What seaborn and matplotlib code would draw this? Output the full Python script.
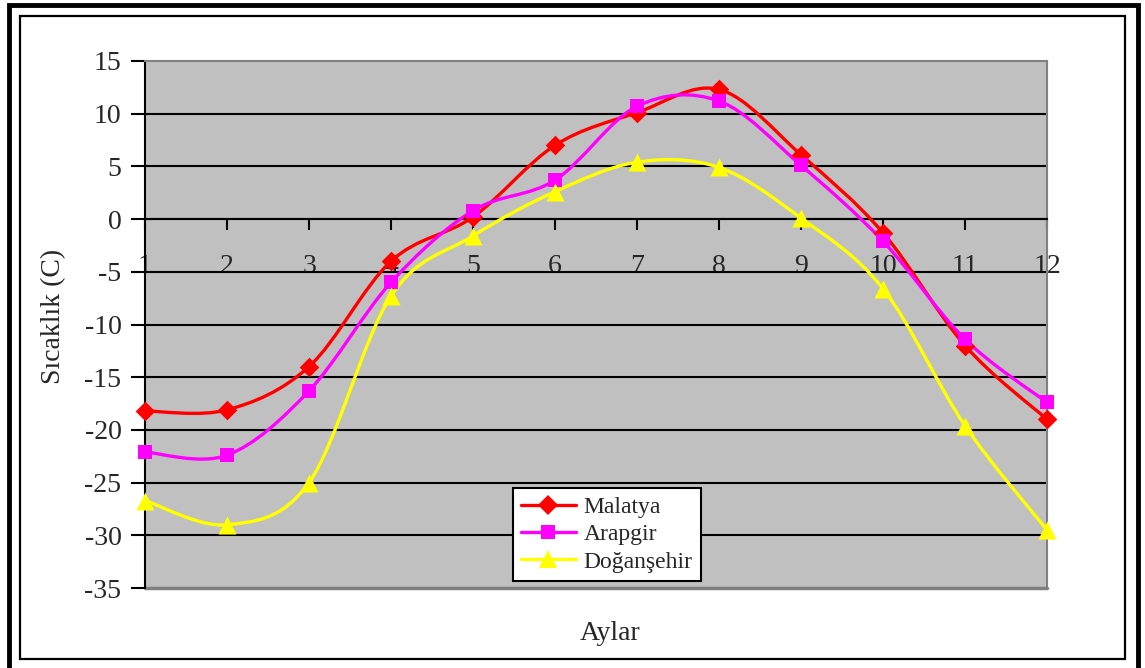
import numpy as np
import matplotlib
matplotlib.use("Agg")
import matplotlib.pyplot as plt
import seaborn as sns
import pandas as pd
from matplotlib.path import Path
from matplotlib.patches import PathPatch, Rectangle
from matplotlib.lines import Line2D

# ---- data ----
months = [1, 2, 3, 4, 5, 6, 7, 8, 9, 10, 11, 12]
malatya = [-18.2, -18.1, -14.0, -4.0, 0.2, 7.0, 10.1, 12.3, 6.1, -1.3, -12.0, -19.0]
arapgir = [-22.1, -22.4, -16.3, -6.0, 0.8, 3.7, 10.7, 11.2, 5.1, -2.1, -11.4, -17.4]
dogansehir = [-26.7, -29.0, -25.0, -7.3, -1.6, 2.6, 5.4, 4.9, 0.1, -6.6, -19.6, -29.5]
series_names = ["Malatya", "Arapgir", "Doğanşehir"]
y_ticks = [15, 10, 5, 0, -5, -10, -15, -20, -25, -30, -35]
x_label = "Aylar"
y_label = "Sıcaklık (C)"

# ---- style ----
sns.set_style("white")
plt.rcParams["font.family"] = ["Liberation Serif", "DejaVu Serif"]

colors = ["#FF0000", "#FF00FF", "#FFFF00"]
markers = ["D", "s", "^"]
msizes = [10, 10, 13]

W, H = 1145, 668
fig = plt.figure(figsize=(W / 100, H / 100), dpi=100)

# frame
fig.patches.append(Rectangle((9 / W, -0.05), (1138 - 9) / W, 1.05 - 5 / H,
                             transform=fig.transFigure, fill=False,
                             edgecolor="black", lw=3.5, zorder=0))
fig.patches.append(Rectangle((20 / W, 1 - 659 / H), (1125 - 20) / W, (659 - 16) / H,
                             transform=fig.transFigure, fill=False,
                             edgecolor="black", lw=1.6, zorder=0))

ax = fig.add_axes([145 / W, 1 - 588 / H, (1047 - 145) / W, (588 - 61) / H])
ax.set_facecolor("#C0C0C0")
ax.set_xlim(1, 12)
ax.set_ylim(-35, 15)

# gridlines
for v in y_ticks:
    if -35 < v < 15:
        ax.axhline(v, color="black", lw=1.5, zorder=1)


def smooth_path(xs, ys):
    pts = np.column_stack([xs, ys]).astype(float)
    n = len(pts)
    verts = [pts[0]]
    codes = [Path.MOVETO]
    for i in range(n - 1):
        p0 = pts[i - 1] if i > 0 else pts[i]
        p1 = pts[i]
        p2 = pts[i + 1]
        p3 = pts[i + 2] if i + 2 < n else pts[i + 1]
        c1 = p1 + (p2 - p0) / 6.0
        c2 = p2 - (p3 - p1) / 6.0
        verts += [c1, c2, p2]
        codes += [Path.CURVE4] * 3
    return Path(verts, codes)


df = pd.DataFrame({"month": months * 3,
                   "value": malatya + arapgir + dogansehir,
                   "series": sum([[s] * len(months) for s in series_names], [])})

for name, col, mk, ms in zip(series_names, colors, markers, msizes):
    sub = df[df["series"] == name]
    ax.add_patch(PathPatch(smooth_path(sub["month"], sub["value"]), fill=False,
                           edgecolor=col, lw=2.4, zorder=3, clip_on=False))
    sns.scatterplot(data=sub, x="month", y="value", marker=mk, s=ms ** 2,
                    color=col, edgecolor=col, linewidth=0, ax=ax, zorder=4,
                    clip_on=False, legend=False)

ax.set_xlabel("")
ax.set_ylabel("")

# axes
ax.set_yticks(y_ticks)
ax.set_yticklabels([str(v) for v in y_ticks])
ax.set_xticks(months)
ax.set_xticklabels([str(m) for m in months])
ax.spines["bottom"].set_position(("data", 0))
ax.spines["bottom"].set_color("black")
ax.spines["bottom"].set_linewidth(1.5)
ax.spines["left"].set_color("black")
ax.spines["left"].set_linewidth(1.5)
for s in ["top", "right"]:
    ax.spines[s].set_color("#808080")
    ax.spines[s].set_linewidth(1.5)
ax.axhline(-35, color="#808080", lw=2.5, zorder=2, clip_on=False)
ax.tick_params(axis="y", direction="out", length=10, width=1.5, color="black",
               labelsize=20, pad=7, left=True)
ax.tick_params(axis="x", direction="out", length=8, width=1.5, color="black",
               labelsize=20, pad=17, bottom=True)

fig.text(54 / W, 1 - 316 / H, y_label, rotation=90, ha="center", va="center", fontsize=20)
fig.text(610 / W, 1 - 633 / H, x_label, ha="center", va="center", fontsize=20)

handles = [Line2D([0], [0], color=c, lw=2.4, marker=m, markersize=ms, markeredgewidth=0)
           for c, m, ms in zip(colors, markers, msizes)]
leg = fig.legend(handles, series_names, loc="upper left",
                 bbox_to_anchor=(513 / W, 1 - 488 / H), fontsize=17,
                 frameon=True, fancybox=False, edgecolor="black", facecolor="white",
                 framealpha=1, handlelength=2.3, handletextpad=0.35,
                 labelspacing=0.25, borderpad=0.35, borderaxespad=0)
leg.get_frame().set_linewidth(1.5)

fig.savefig("out.png", dpi=100)
